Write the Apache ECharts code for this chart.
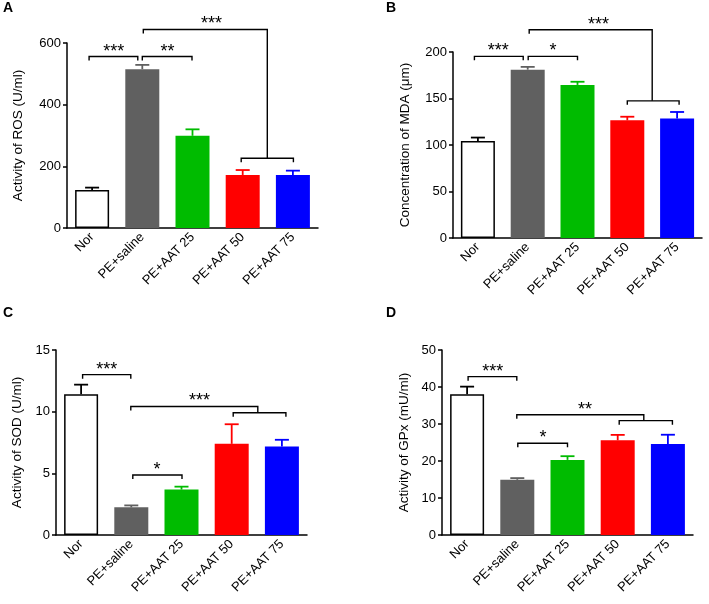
<!DOCTYPE html>
<html>
<head>
<meta charset="utf-8">
<script src="https://cdn.jsdelivr.net/npm/echarts@6/dist/echarts.min.js"></script>
<style>html,body{margin:0;padding:0;background:#fff}#c{width:709px;height:604px}</style>
</head>
<body>
<div id="c"></div>
<script>
const categories = ['Nor', 'PE+saline', 'PE+AAT 25', 'PE+AAT 50', 'PE+AAT 75'];
const barColors = ['#ffffff', '#606060', '#00bb00', '#ff0000', '#0000ff'];
const errColors = ['#000000', '#606060', '#00bb00', '#ff0000', '#0000ff'];

const rosMean = [123, 515, 299, 172, 172];
const rosUpper = [131, 529, 320, 188, 186];
const mdaMean = [104.4, 181, 164.6, 126.5, 128.6];
const mdaUpper = [108, 184, 168, 130.4, 135.5];
const sodMean = [11.42, 2.24, 3.68, 7.39, 7.17];
const sodUpper = [12.19, 2.4, 3.92, 8.98, 7.72];
const gpxMean = [38.05, 14.92, 20.3, 25.6, 24.6];
const gpxUpper = [40.1, 15.38, 21.3, 27.06, 27.1];

// brackets: [from category, to category, level value, label, label position, right end drops to value]
const rosBrackets = [
  [-0.06, 0.91, 556, '***', 0.43, null],
  [1.0, 1.99, 556, '**', 1.5, null],
  [2.97, 4.01, 226, '', 0, null],
  [1.02, 3.49, 644, '***', 2.38, 226]
];
const mdaBrackets = [
  [-0.07, 0.91, 195.3, '***', 0.41, null],
  [1.01, 2.0, 195.3, '*', 1.51, null],
  [3.0, 4.04, 147.5, '', 0, null],
  [1.03, 3.5, 224, '***', 2.42, 147.5]
];
const sodBrackets = [
  [0.03, 0.99, 13.0, '***', 0.51, null],
  [1.03, 2.01, 4.87, '*', 1.51, null],
  [3.03, 4.08, 9.91, '', 0, null],
  [0.99, 3.52, 10.42, '***', 2.36, 9.91]
];
const gpxBrackets = [
  [0.02, 0.99, 42.8, '***', 0.51, null],
  [1.01, 2.0, 24.8, '*', 1.51, null],
  [3.03, 4.09, 30.9, '', 0, null],
  [0.99, 3.52, 32.5, '**', 2.35, 30.9]
];

const panels = [
  {letter: 'A', name: 'Activity of ROS (U/ml)', mean: rosMean, upper: rosUpper, br: rosBrackets, max: 600, interval: 200,
   grid: {left: 67, top: 43, width: 251, height: 185}, gap: 42, lx: 3, ly: 1},
  {letter: 'B', name: 'Concentration of MDA (\u03bcm)', mean: mdaMean, upper: mdaUpper, br: mdaBrackets, max: 200, interval: 50,
   grid: {left: 453, top: 52, width: 249, height: 186}, gap: 41, lx: 386, ly: 1},
  {letter: 'C', name: 'Activity of SOD (U/ml)', mean: sodMean, upper: sodUpper, br: sodBrackets, max: 15, interval: 5,
   grid: {left: 56, top: 350, width: 251, height: 185}, gap: 32, lx: 3, ly: 306},
  {letter: 'D', name: 'Activity of GPx (mU/ml)', mean: gpxMean, upper: gpxUpper, br: gpxBrackets, max: 50, interval: 10,
   grid: {left: 442, top: 350, width: 251, height: 185}, gap: 31, lx: 386, ly: 306}
];

const FONT = "'Liberation Sans', Arial, sans-serif";
const option = {
  animation: false,
  backgroundColor: '#ffffff',
  textStyle: {fontFamily: FONT},
  title: [], grid: [], xAxis: [], yAxis: [], series: []
};

panels.forEach((p, k) => {
  option.title.push({text: p.letter, left: p.lx, top: p.ly, padding: 0,
    textStyle: {fontFamily: FONT, fontSize: 14, fontWeight: 'bold', color: '#000'}});
  option.grid.push(Object.assign({containLabel: false}, p.grid));
  option.xAxis.push({
    type: 'category', gridIndex: k, data: categories,
    axisLine: {lineStyle: {color: '#000', width: 1.5}},
    axisTick: {alignWithLabel: true, length: 4, lineStyle: {color: '#000', width: 1.5}},
    axisLabel: {rotate: 45, fontSize: 13, color: '#000', margin: 7, fontFamily: FONT, interval: 0},
    splitLine: {show: false}
  });
  option.yAxis.push({
    type: 'value', gridIndex: k, min: 0, max: p.max, interval: p.interval,
    name: p.name, nameLocation: 'middle', nameGap: p.gap,
    nameTextStyle: {fontSize: 13.5, color: '#000', fontFamily: FONT},
    axisLine: {show: true, lineStyle: {color: '#000', width: 1.5}},
    axisTick: {show: true, length: 4, lineStyle: {color: '#000', width: 1.5}},
    axisLabel: {fontSize: 13, color: '#000', margin: 6, fontFamily: FONT},
    splitLine: {show: false}
  });
  option.series.push({
    type: 'bar', xAxisIndex: k, yAxisIndex: k, barWidth: 34, z: 2,
    data: p.mean.map((v, i) => ({
      value: v,
      itemStyle: {color: barColors[i], borderColor: i === 0 ? '#000' : barColors[i], borderWidth: i === 0 ? 1.5 : 0}
    }))
  });
  option.series.push({
    type: 'custom', xAxisIndex: k, yAxisIndex: k, z: 3, clip: false,
    data: p.mean.map((v, i) => [i, v, p.upper[i]]),
    renderItem: function (params, api) {
      const i = api.value(0);
      const a = api.coord([i, api.value(1)]);
      const b = api.coord([i, api.value(2)]);
      const col = errColors[i];
      return {type: 'group', children: [
        {type: 'line', shape: {x1: a[0], y1: a[1], x2: b[0], y2: b[1]}, style: {stroke: col, lineWidth: 1.8}},
        {type: 'line', shape: {x1: b[0] - 7, y1: b[1], x2: b[0] + 7, y2: b[1]}, style: {stroke: col, lineWidth: 1.8}}
      ]};
    }
  });
  const brs = p.br;
  option.series.push({
    type: 'custom', xAxisIndex: k, yAxisIndex: k, z: 4, clip: false,
    data: brs.map(b => [0, b[2]]),
    renderItem: function (params, api) {
      const b = brs[params.dataIndex];
      const c0 = api.coord([0, b[2]]);
      const c1 = api.coord([1, b[2]]);
      const band = c1[0] - c0[0];
      const X = v => c0[0] + v * band;
      const y = c0[1];
      const x1 = X(b[0]), x2 = X(b[1]);
      const yl = y + 4;
      const yr = b[5] == null ? y + 4 : api.coord([0, b[5]])[1];
      const children = [{
        type: 'polyline', shape: {points: [[x1, yl], [x1, y], [x2, y], [x2, yr]]},
        style: {stroke: '#000', lineWidth: 1.4, fill: null}
      }];
      if (b[3]) {
        children.push({type: 'text', x: X(b[4]), y: y - 5,
          style: {text: b[3], font: '18px ' + FONT, fill: '#000', align: 'center', verticalAlign: 'middle'}});
      }
      return {type: 'group', children: children};
    }
  });
});

const chart = echarts.init(document.getElementById('c'), null, {renderer: 'canvas'});
chart.setOption(option);
</script>
</body>
</html>
